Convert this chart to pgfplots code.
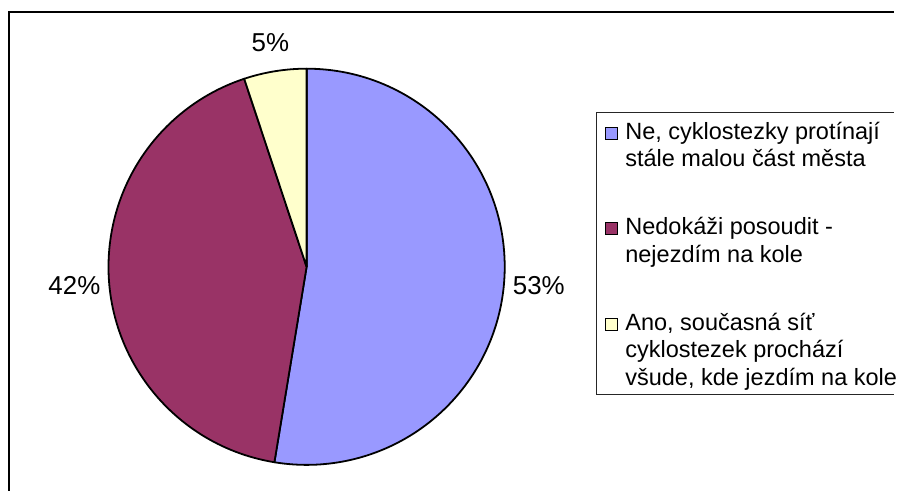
\documentclass[border=0pt]{standalone}
\usepackage{pgfplots}
\usepackage{pgfplotstable}
\pgfplotsset{compat=1.18}
\usepackage{fontspec}
\setmainfont{Liberation Sans}
\definecolor{sliceA}{HTML}{9999FF}
\definecolor{sliceB}{HTML}{993366}
\definecolor{sliceC}{HTML}{FFFFCC}

% share of answers (percent), in drawing order clockwise from 12 o'clock
\pgfplotstableread{
value
52.6
42.3
5.1
}\piedata

\begin{document}
\begin{tikzpicture}
\pgfplotstablegetelem{0}{value}\of\piedata \let\va\pgfplotsretval
\pgfplotstablegetelem{1}{value}\of\piedata \let\vb\pgfplotsretval
\pgfplotstablegetelem{2}{value}\of\piedata \let\vc\pgfplotsretval
\pgfmathsetmacro{\aS}{90}
\pgfmathsetmacro{\aE}{\aS-3.6*\va}
\pgfmathsetmacro{\bE}{\aE-3.6*\vb}
\pgfmathsetmacro{\cE}{\bE-3.6*\vc}
\pgfmathsetmacro{\aM}{(\aS+\aE)/2}
\pgfmathsetmacro{\bM}{(\aE+\bE)/2}
\pgfmathsetmacro{\cM}{(\bE+\cE)/2}
\begin{axis}[
  at={(0,0)}, anchor=south west,
  scale only axis, x=1pt, y=1pt,
  xmin=0, xmax=897, ymin=0, ymax=493,
  hide axis, clip=false,
]
% outer frame (top and left visible)
\draw[line width=2pt, black] (axis cs:9,0) -- (axis cs:9,481) -- (axis cs:898,481);
% pie
\filldraw[fill=sliceA, draw=black, line width=1.8pt, line join=round]
  (axis cs:308,225) -- ++(\aS:199pt) arc[start angle=\aS, end angle=\aE, radius=199pt] -- cycle;
\filldraw[fill=sliceB, draw=black, line width=1.8pt, line join=round]
  (axis cs:308,225) -- ++(\aE:199pt) arc[start angle=\aE, end angle=\bE, radius=199pt] -- cycle;
\filldraw[fill=sliceC, draw=black, line width=1.8pt, line join=round]
  (axis cs:308,225) -- ++(\bE:199pt) arc[start angle=\bE, end angle=\cE, radius=199pt] -- cycle;
% data labels
\node[font=\fontsize{26}{30}\selectfont, shift={(\aM:234pt)}] at (axis cs:308,225) {53\%};
\node[font=\fontsize{26}{30}\selectfont, shift={(\bM:234pt)}] at (axis cs:308,225) {42\%};
\node[font=\fontsize{26}{30}\selectfont, shift={(\cM:228pt)}] at (axis cs:308,225) {5\%};
% legend
\draw[line width=1.2pt, black!85] (axis cs:898,380) -- (axis cs:599,380) -- (axis cs:599,97) -- (axis cs:898,97);
\filldraw[fill=sliceA, draw=black, line width=1pt] (axis cs:608,353) rectangle (axis cs:620,365);
\filldraw[fill=sliceB, draw=black, line width=1pt] (axis cs:608,257) rectangle (axis cs:620,269);
\filldraw[fill=sliceC, draw=black, line width=1pt] (axis cs:608,161) rectangle (axis cs:620,173);
\tikzset{legtext/.style={anchor=base west, inner sep=0pt, font=\fontsize{23.6}{28}\selectfont}}
\node[legtext] at (axis cs:628,353) {Ne, cyklostezky protínají};
\node[legtext] at (axis cs:628,325.5) {stále malou část města};
\node[legtext] at (axis cs:628,257) {Nedokáži posoudit -};
\node[legtext] at (axis cs:628,229.5) {nejezdím na kole};
\node[legtext] at (axis cs:628,161) {Ano, současná síť};
\node[legtext] at (axis cs:628,133.5) {cyklostezek prochází};
\node[legtext] at (axis cs:628,106) {všude, kde jezdím na kole};
\end{axis}
\useasboundingbox (0,0) rectangle (897pt,493pt);
\end{tikzpicture}
\end{document}
